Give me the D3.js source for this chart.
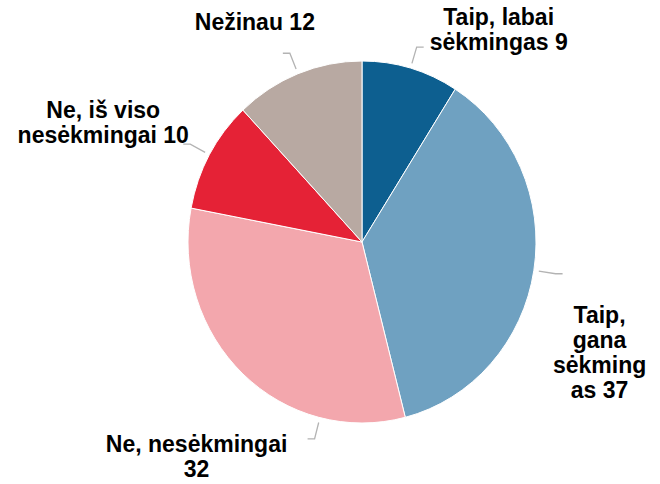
<!DOCTYPE html>
<html>
<head>
<meta charset="utf-8">
<script src="https://cdn.jsdelivr.net/npm/d3@7/dist/d3.min.js"></script>
<style>
  html, body { margin: 0; padding: 0; background: #fff; }
  svg { display: block; }
  .lbl { font-family: "Liberation Sans", Arial, sans-serif; font-weight: bold; font-size: 23px; fill: #000; }
</style>
</head>
<body>
<svg id="chart" width="660" height="484"></svg>
<script>
// ---- data ----
const categories = ["Taip, labai sėkmingas", "Taip, gana sėkmingas", "Ne, nesėkmingai", "Ne, iš viso nesėkmingai", "Nežinau"];
const values = [9, 37, 32, 10, 12];
const colors = ["#0d5f90", "#6fa1c1", "#f3a7ad", "#e52236", "#b8a9a2"];

// ---- layout ----
const W = 660, H = 484;
const cx = 362, cy = 242, ry = 181, rx = 174;
const wrapWidth = [145, 100, 195, 178, 200];
const connectorAngleOverride = { 2: 194 };           // degrees
const labelOffset = [[75, -22], [37, 49], [-111, 13], [-80, -26], [-28, -23]]; // from connector end to first baseline (block centre)
const hDir = [1, 1, -1, -1, -1];
const lineH = 25;

const svg = d3.select("#chart");

const pie = d3.pie().sort(null).value(d => d)(values);
const arc = d3.arc().innerRadius(0).outerRadius(ry);

const g = svg.append("g").attr("transform", `translate(${cx},${cy}) scale(${rx / ry},1)`);
g.selectAll("path").data(pie).join("path")
  .attr("d", arc)
  .attr("fill", (d, i) => colors[i])
  .attr("stroke", "#fff")
  .attr("stroke-width", 1)
  .attr("vector-effect", "non-scaling-stroke");

function pt(angleRad, extra) {
  return [cx + (rx + extra) * Math.sin(angleRad), cy - (ry + extra) * Math.cos(angleRad)];
}

const labels = svg.append("g");

pie.forEach((d, i) => {
  let a = (d.startAngle + d.endAngle) / 2;
  if (connectorAngleOverride[i] !== undefined) a = connectorAngleOverride[i] * Math.PI / 180;
  const p0 = pt(a, 5);
  const p1 = pt(a, 22);
  const p2 = [p1[0] + hDir[i] * 7, p1[1]];
  labels.append("path")
    .attr("d", d3.line()([p0, p1, p2]))
    .attr("fill", "none")
    .attr("stroke", "#b3b3b3")
    .attr("stroke-width", 1.3);

  const text = categories[i] + " " + values[i];
  const lx = p2[0] + labelOffset[i][0];
  const ly = p2[1] + labelOffset[i][1];
  const t = labels.append("text").attr("class", "lbl").attr("text-anchor", "middle");
  const lines = wrap(t, text, wrapWidth[i]);
  lines.forEach((ln, k) => {
    t.append("tspan").attr("x", lx).attr("y", ly + k * lineH).text(ln);
  });
});

function wrap(t, text, width) {
  const probe = t.append("tspan");
  const measure = s => { probe.text(s); return probe.node().getComputedTextLength(); };
  const words = text.split(" ");
  const out = [];
  let line = "";
  for (let w of words) {
    const cand = line ? line + " " + w : w;
    if (measure(cand) <= width) { line = cand; continue; }
    if (line) { out.push(line); line = ""; }
    while (measure(w) > width) {
      let k = w.length - 1;
      while (k > 1 && measure(w.slice(0, k)) > width) k--;
      out.push(w.slice(0, k));
      w = w.slice(k);
    }
    line = w;
  }
  if (line) out.push(line);
  probe.remove();
  return out;
}
</script>
</body>
</html>
